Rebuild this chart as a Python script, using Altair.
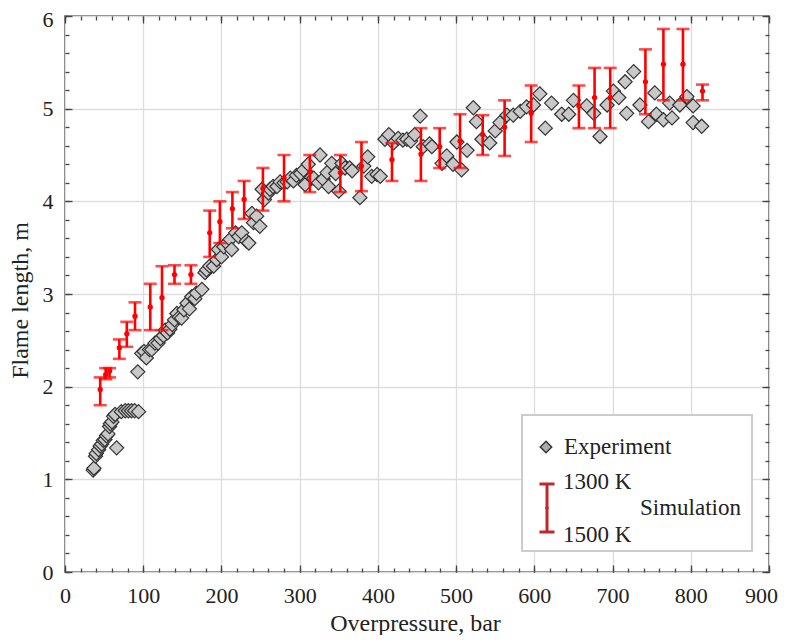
import altair as alt
import pandas as pd

FONT = "Liberation Serif"

# Experiment (overpressure, bar ; flame length, m)
EXP_X = [36, 37, 39, 40, 43, 45, 47, 49, 51, 53, 55, 57, 58, 60, 62, 64, 66, 72, 77, 81, 85, 89, 94,
         93, 98, 101, 104, 108, 111, 115, 119, 122, 126, 128, 131, 134, 137, 140, 143, 146, 149, 152,
         156, 159, 162, 166, 168, 175, 179, 181, 185, 190, 194, 196, 200, 203, 207, 211, 213, 218,
         222, 226, 232, 235, 239, 241, 245, 249, 252, 255, 260, 262, 266, 271, 275, 280, 284, 288,
         292, 296, 301, 305, 307, 311, 315, 318, 324, 326, 330, 335, 337, 341, 346, 350, 354, 358,
         364, 367, 377, 382, 387, 392, 399, 403, 409, 414, 420, 426, 432, 437, 442, 447, 454, 458,
         466, 469, 482, 488, 496, 501, 507, 514, 522, 526, 533, 543, 550, 556, 565, 573, 582, 590,
         599, 607, 614, 622, 635, 644, 650, 667, 676, 684, 693, 701, 708, 716, 718, 727, 735, 746,
         754, 756, 765, 773, 776, 786, 795, 803, 803, 814]
EXP_Y = [1.10, 1.12, 1.25, 1.28, 1.32, 1.36, 1.38, 1.42, 1.43, 1.47, 1.49, 1.57, 1.60, 1.62, 1.68,
         1.70, 1.34, 1.73, 1.74, 1.74, 1.74, 1.74, 1.73,
         2.16, 2.36, 2.38, 2.31, 2.40, 2.40, 2.47, 2.47, 2.52, 2.55, 2.61, 2.58, 2.62, 2.67, 2.72,
         2.79, 2.75, 2.74, 2.83, 2.90, 2.84, 2.97, 2.95, 3.01, 3.05, 3.23, 3.26, 3.30, 3.30, 3.37,
         3.48, 3.40, 3.51, 3.55, 3.59, 3.48, 3.66, 3.62, 3.66, 3.57, 3.55, 3.87, 3.77, 3.84, 3.73,
         4.13, 4.02, 4.09, 4.13, 4.16, 4.16, 4.21, 4.20, 4.21, 4.25, 4.22, 4.28, 4.30, 4.34, 4.18,
         4.40, 4.26, 4.25, 4.20, 4.50, 4.24, 4.31, 4.16, 4.41, 4.30, 4.11, 4.41, 4.36, 4.36, 4.33,
         4.04, 4.38, 4.48, 4.27, 4.29, 4.27, 4.67, 4.72, 4.63, 4.68, 4.66, 4.67, 4.65, 4.72, 4.92,
         4.59, 4.62, 4.59, 4.41, 4.49, 4.40, 4.64, 4.34, 4.55, 5.01, 4.86, 4.67, 4.63, 4.76, 4.85,
         4.93, 4.93, 4.97, 5.02, 5.04, 5.16, 4.79, 5.06, 4.94, 4.94, 5.09, 5.03, 4.95, 4.70, 5.04,
         5.19, 5.12, 5.29, 4.95, 5.40, 5.04, 4.86, 5.17, 4.94, 4.88, 5.06, 4.90, 5.04, 5.13, 5.03,
         4.85, 4.81]

# Simulation: centre value, 1500 K (lower) and 1300 K (upper) bounds
SIM_X = [45, 52, 57, 69.5, 79, 89.5, 109, 124, 140, 161, 185, 198, 214, 229, 253, 280, 313, 352,
         379, 418, 455, 479, 505, 534, 562, 596, 657, 677, 697, 742, 765, 790, 815]
SIM_Y = [1.97, 2.13, 2.17, 2.42, 2.57, 2.76, 2.86, 2.96, 3.21, 3.21, 3.66, 3.78, 3.92, 4.02, 4.14,
         4.25, 4.32, 4.31, 4.38, 4.45, 4.51, 4.59, 4.65, 4.72, 4.80, 4.95, 5.03, 5.12, 5.12, 5.29,
         5.48, 5.48, 5.19]
SIM_LO = [1.80, 2.08, 2.10, 2.30, 2.43, 2.61, 2.61, 2.61, 3.11, 3.11, 3.40, 3.55, 3.71, 3.81, 3.90,
          4.00, 4.10, 4.10, 4.11, 4.22, 4.22, 4.36, 4.36, 4.50, 4.49, 4.64, 4.79, 4.79, 4.79, 4.94,
          5.09, 5.09, 5.09]
SIM_HI = [2.10, 2.20, 2.20, 2.51, 2.70, 2.91, 3.11, 3.30, 3.31, 3.31, 3.90, 4.00, 4.10, 4.22, 4.36,
          4.50, 4.50, 4.50, 4.64, 4.63, 4.79, 4.79, 4.94, 4.93, 5.09, 5.25, 5.25, 5.44, 5.44, 5.64,
          5.86, 5.86, 5.26]

X_MAJOR = [0, 100, 200, 300, 400, 500, 600, 700, 800, 900]
X_MINOR = list(range(0, 901, 20))
Y_MAJOR = [0, 1, 2, 3, 4, 5, 6]
Y_MINOR = [round(i * 0.2, 1) for i in range(31)]

exp_df = pd.DataFrame({"x": EXP_X, "y": EXP_Y})
sim_df = pd.DataFrame({"x": SIM_X, "y": SIM_Y, "lo": SIM_LO, "hi": SIM_HI})
one = pd.DataFrame({"k": [0]})

W, H = 704, 556
XS = alt.Scale(domain=[0, 900], nice=False, zero=False)
YS = alt.Scale(domain=[0, 6], nice=False, zero=False)
RED = "#ff0000"
TXT = "#222222"


def tick_axis(orient, values, size):
    return alt.Axis(orient=orient, values=values, ticks=True, tickSize=size, offset=-size,
                    tickColor="#444444", tickWidth=1.3, labels=False, domain=False,
                    grid=False, title=None)


x_lab = alt.Axis(orient="bottom", values=X_MAJOR, grid=True, gridColor="#dddddd", gridWidth=1.3,
                 ticks=False, tickSize=0, domain=False, labelFont=FONT, labelFontSize=22,
                 labelColor=TXT, labelPadding=13, labelFlush=False, labelOverlap=False,
                 labelOffset={"condition": {"test": "datum.value >= 900", "value": -8}, "value": 0},
                 title="Overpressure, bar", titleFont=FONT, titleFontSize=24,
                 titleFontWeight="normal", titleColor=TXT, titleX=350, titleY=58,
                 titleBaseline="alphabetic", titleAlign="center")
y_lab = alt.Axis(orient="left", values=Y_MAJOR, grid=True, gridColor="#dddddd", gridWidth=1.3,
                 ticks=False, tickSize=0, domain=False, labelFont=FONT, labelFontSize=22,
                 labelColor=TXT, labelPadding=12, labelFlush=False, labelOverlap=False,
                 labelOffset={"condition": {"test": "datum.value >= 6", "value": 3}, "value": 0},
                 title="Flame length, m", titleFont=FONT, titleFontSize=24,
                 titleFontWeight="normal", titleColor=TXT, titleAngle=270, titleX=-38,
                 titleY=284, titleBaseline="alphabetic", titleAlign="center")

exp_layer = alt.Chart(exp_df).mark_point(
    shape="diamond", filled=True, fill="#c8c8c8", stroke="#333333", strokeWidth=1.2,
    size=200, opacity=1
).encode(
    x=alt.X("x:Q", scale=XS, axis=x_lab),
    y=alt.Y("y:Q", scale=YS, axis=y_lab),
)

bars = alt.Chart(sim_df).mark_rule(color=RED, strokeWidth=2.6).encode(
    x=alt.X("x:Q", scale=XS, axis=tick_axis("bottom", X_MAJOR, 7)),
    y=alt.Y("lo:Q", scale=YS, axis=tick_axis("left", Y_MAJOR, 7)),
    y2="hi:Q",
)
cap_hi = alt.Chart(sim_df).mark_tick(color=RED, orient="horizontal", size=13, thickness=2.6).encode(
    x=alt.X("x:Q", scale=XS, axis=tick_axis("bottom", X_MINOR, 4)),
    y=alt.Y("hi:Q", scale=YS, axis=tick_axis("left", Y_MINOR, 4)),
)
cap_lo = alt.Chart(sim_df).mark_tick(color=RED, orient="horizontal", size=13, thickness=2.6).encode(
    x=alt.X("x:Q", scale=XS, axis=tick_axis("top", X_MAJOR, 7)),
    y=alt.Y("lo:Q", scale=YS, axis=tick_axis("right", Y_MAJOR, 7)),
)
dots = alt.Chart(sim_df).mark_circle(color=RED, size=28, opacity=1).encode(
    x=alt.X("x:Q", scale=XS, axis=tick_axis("top", X_MINOR, 4)),
    y=alt.Y("y:Q", scale=YS, axis=tick_axis("right", Y_MINOR, 4)),
)

# Legend (drawn inside the plot, lower right)
LEG_RED = "#c0282d"
leg_box = alt.Chart(one).mark_rect(fill="white", stroke="#cccccc", strokeWidth=2).encode(
    x=alt.value(457), x2=alt.value(687), y=alt.value(399), y2=alt.value(535))
leg_diam = alt.Chart(one).mark_point(shape="diamond", filled=True, fill="#aaaaaa", stroke="#333333",
                                     strokeWidth=1.5, size=130, opacity=1).encode(
    x=alt.value(481), y=alt.value(431))
leg_bar = alt.Chart(one).mark_rule(color=LEG_RED, strokeWidth=3).encode(
    x=alt.value(482), y=alt.value(468), y2=alt.value(516))
leg_cap1 = alt.Chart(one).mark_rule(color=LEG_RED, strokeWidth=3).encode(
    x=alt.value(474.5), x2=alt.value(489.5), y=alt.value(468))
leg_cap2 = alt.Chart(one).mark_rule(color=LEG_RED, strokeWidth=3).encode(
    x=alt.value(474.5), x2=alt.value(489.5), y=alt.value(516))
leg_dot = alt.Chart(one).mark_circle(color=LEG_RED, size=14, opacity=1).encode(
    x=alt.value(482), y=alt.value(492))


def leg_text(txt, x, y):
    return alt.Chart(one).mark_text(font=FONT, fontSize=23, color=TXT, align="left",
                                    baseline="middle").encode(
        x=alt.value(x), y=alt.value(y), text=alt.value(txt))


chart = alt.layer(
    exp_layer, bars, cap_hi, cap_lo, dots,
    leg_box, leg_diam, leg_bar, leg_cap1, leg_cap2, leg_dot,
    leg_text("Experiment", 499, 431),
    leg_text("1300 K", 498, 466),
    leg_text("1500 K", 498, 519),
    leg_text("Simulation", 575, 492),
).resolve_axis(
    x="independent", y="independent"
).properties(
    width=W, height=H,
    autosize=alt.AutoSizeParams(type="none"),
    padding={"left": 57, "top": 8, "right": 10, "bottom": 63},
    background="white",
).configure_view(
    stroke="#555555", strokeWidth=1.5
)

chart.save("out.html", embed_options={"renderer": "svg", "actions": False})
